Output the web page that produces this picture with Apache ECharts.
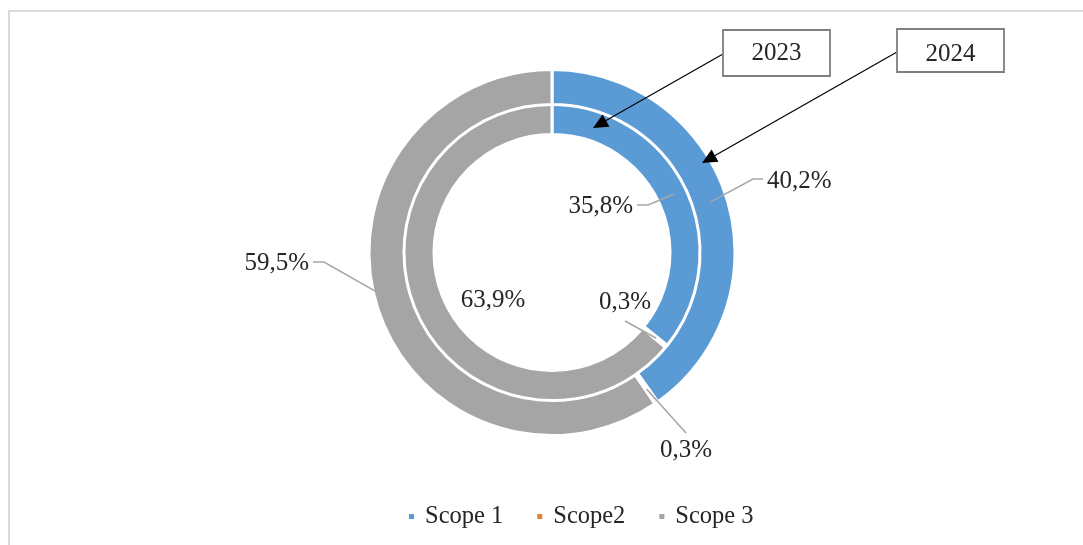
<!DOCTYPE html>
<html>
<head>
<meta charset="utf-8">
<script src="https://cdn.jsdelivr.net/npm/echarts@6/dist/echarts.min.js"></script>
<style>
  html, body { margin: 0; padding: 0; background: #fff; }
  #chart { width: 1083px; height: 545px; }
</style>
</head>
<body>
<div id="chart"></div>
<script>
// Emission shares by scope, two reporting years
const scopes = ['Scope 1', 'Scope2', 'Scope 3'];
const share2023 = [35.8, 0.3, 63.9];
const share2024 = [40.2, 0.3, 59.5];
const years = ['2023', '2024'];
const scopeColors = ['#5B9BD5', '#ED7D31', '#A5A5A5'];

const CX = 552, CY = 252.5;
const FONT = '"Liberation Serif", "Times New Roman", serif';
const TEXT = '#262626';
const LEADER = '#A6A6A6';

// Ring geometry (inner ring = 2023, outer ring = 2024)
const rings = {
  inner: { radius: [118, 152], mid: 135 },
  outer: { radius: [148, 183], mid: 166 }
};

// Where each label sits and how its leader line bends
const labelPlacement = {
  inner: [
    { x: 633, y: 206, align: 'right', elbow: [[648, 205], [637, 205]] },
    { x: 625, y: 302, align: 'center', elbow: [[625, 321]] },
    { x: 493, y: 300, align: 'center', elbow: null }
  ],
  outer: [
    { x: 767, y: 181, align: 'left', elbow: [[753, 179], [763, 179]] },
    { x: 686, y: 450, align: 'center', elbow: [[686, 433]] },
    { x: 309, y: 263, align: 'right', elbow: [[324, 262], [313, 262]] }
  ]
};

// Mid-ring point of a slice, from the slice's share
function sliceMid(values, idx, r) {
  const total = values.reduce((a, b) => a + b, 0);
  let before = 0;
  for (let i = 0; i < idx; i++) before += values[i];
  const deg = 90 - (before + values[idx] / 2) / total * 360;
  const rad = deg * Math.PI / 180;
  return [CX + r * Math.cos(rad), CY - r * Math.sin(rad)];
}

function fmt(p) {
  return p.value.toFixed(1).replace('.', ',') + '%';
}

function makeRing(name, values, ringKey) {
  const ring = rings[ringKey];
  const place = labelPlacement[ringKey];
  return {
    type: 'pie',
    name: name,
    center: [CX, CY],
    radius: ring.radius,
    startAngle: 90,
    clockwise: true,
    avoidLabelOverlap: false,
    animation: false,
    emphasis: { disabled: true },
    itemStyle: { borderColor: '#ffffff', borderWidth: 3 },
    label: {
      show: true,
      position: 'outside',
      formatter: fmt,
      fontFamily: FONT,
      fontSize: 25,
      color: TEXT
    },
    labelLine: { show: false },
    labelLayout: function (params) {
      const p = place[params.dataIndex];
      return { x: p.x, y: p.y, align: p.align, verticalAlign: 'middle' };
    },
    data: scopes.map((s, i) => ({
      name: s,
      value: values[i],
      itemStyle: { color: scopeColors[i] }
    }))
  };
}

// Leader lines drawn over the rings, starting mid-ring at each slice
function leaderLines(values, ringKey) {
  const ring = rings[ringKey];
  return labelPlacement[ringKey]
    .map((p, i) => p.elbow ? {
      type: 'polyline', z: 90,
      shape: { points: [sliceMid(values, i, ring.mid)].concat(p.elbow) },
      style: { stroke: LEADER, lineWidth: 1.5, fill: null }
    } : null)
    .filter(Boolean);
}

// Callout box with an arrow pointing at a ring
function callout(text, box, textY, from, tip) {
  const dx = tip[0] - from[0], dy = tip[1] - from[1];
  const len = Math.sqrt(dx * dx + dy * dy);
  const ux = dx / len, uy = dy / len;
  const headLen = 15, headHalf = 7;
  const bx = tip[0] - ux * headLen, by = tip[1] - uy * headLen;
  const nx = -uy, ny = ux;
  return [
    {
      type: 'line', z: 100,
      shape: { x1: from[0], y1: from[1], x2: bx, y2: by },
      style: { stroke: '#000', lineWidth: 1.2 }
    },
    {
      type: 'polygon', z: 100,
      shape: { points: [tip, [bx + nx * headHalf, by + ny * headHalf], [bx - nx * headHalf, by - ny * headHalf]] },
      style: { fill: '#000' }
    },
    {
      type: 'rect', z: 100,
      shape: { x: box[0], y: box[1], width: box[2], height: box[3] },
      style: { fill: '#fff', stroke: '#7F7F7F', lineWidth: 1.8 }
    },
    {
      type: 'text', z: 101,
      x: box[0] + box[2] / 2, y: textY,
      style: {
        text: text, fill: TEXT, font: '25px ' + FONT,
        align: 'center', verticalAlign: 'middle'
      }
    }
  ];
}

const chart = echarts.init(document.getElementById('chart'), null, { renderer: 'canvas' });

chart.setOption({
  backgroundColor: '#ffffff',
  animation: false,
  legend: {
    data: scopes,
    left: 402,
    top: 499,
    icon: 'rect',
    itemWidth: 7,
    itemHeight: 7,
    itemGap: 32,
    selectedMode: false,
    textStyle: { fontFamily: FONT, fontSize: 24.5, color: TEXT, padding: [0, 0, 0, 5] }
  },
  graphic: [
    {
      type: 'rect', z: -10,
      shape: { x: 9, y: 11, width: 1200, height: 700 },
      style: { fill: 'none', stroke: '#D9D9D9', lineWidth: 2 }
    }
  ].concat(
    leaderLines(share2023, 'inner'),
    leaderLines(share2024, 'outer'),
    callout(years[0], [723, 30, 107, 46], 53, [723, 54], [593, 128]),
    callout(years[1], [897, 29, 107, 43], 54, [897, 52], [702, 163])
  ),
  series: [
    makeRing(years[0], share2023, 'inner'),
    makeRing(years[1], share2024, 'outer')
  ]
});
</script>
</body>
</html>
